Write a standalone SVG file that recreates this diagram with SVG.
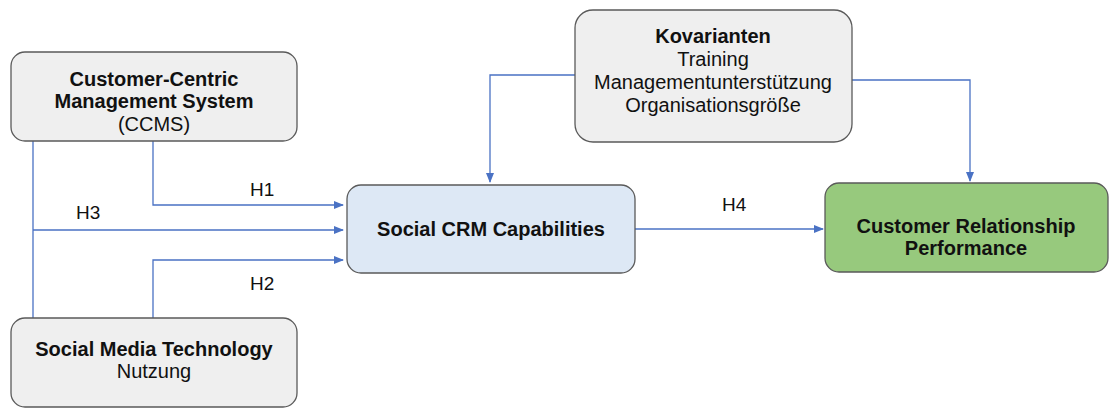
<svg xmlns="http://www.w3.org/2000/svg" width="1109" height="408" viewBox="0 0 1109 408">
<defs>
<marker id="ah" markerWidth="10" markerHeight="8" refX="9" refY="4" orient="auto" markerUnits="userSpaceOnUse">
<path d="M0,0 L10,4 L0,8 Z" fill="#4a72c4"/>
</marker>
<style>
.box{fill:#efefef;stroke:#5a5a5a;stroke-width:1.3}
.blue{fill:#dde8f5;stroke:#5a5a5a;stroke-width:1.3}
.green{fill:#97c97d;stroke:#5a5a5a;stroke-width:1.3}
.c{fill:none;stroke:#4a72c4;stroke-width:1.3}
text{font-family:"Liberation Sans",Arial,sans-serif;font-size:20px;fill:#111;text-anchor:middle}
.b{font-weight:bold}
.lbl{text-anchor:start;font-size:19px}
</style>
</defs>
<rect width="1109" height="408" fill="#fff"/>
<g id="connectors">
<path class="c" d="M153,141 V205 H343" marker-end="url(#ah)"/>
<path class="c" d="M33,141 V318 M33,230 H343" marker-end="url(#ah)"/>
<path class="c" d="M153,318 V260 H343" marker-end="url(#ah)"/>
<path class="c" d="M575,75 H490 V182" marker-end="url(#ah)"/>
<path class="c" d="M852,80 H970 V181" marker-end="url(#ah)"/>
<path class="c" d="M635,229 H823" marker-end="url(#ah)"/>
<text class="lbl" x="250" y="196">H1</text>
<text class="lbl" x="76" y="219">H3</text>
<text class="lbl" x="250" y="290">H2</text>
<text class="lbl" x="722" y="211">H4</text>
</g>
<g id="ccms">
<rect class="box" x="11" y="52" width="286" height="89" rx="14"/>
<text class="b" x="154" y="86">Customer-Centric</text>
<text class="b" x="154" y="108">Management System</text>
<text x="154" y="131">(CCMS)</text>
</g>
<g id="smt">
<rect class="box" x="11" y="318" width="286" height="89" rx="14"/>
<text class="b" x="154" y="356">Social Media Technology</text>
<text x="154" y="378">Nutzung</text>
</g>
<g id="kovarianten">
<rect class="box" x="575" y="10" width="277" height="132" rx="18"/>
<text class="b" x="713" y="43">Kovarianten</text>
<text x="713" y="66">Training</text>
<text x="713" y="89">Managementunterstützung</text>
<text x="713" y="112">Organisationsgröße</text>
</g>
<g id="scrm">
<rect class="blue" x="347" y="185" width="288" height="88" rx="14"/>
<text class="b" x="491" y="236">Social CRM Capabilities</text>
</g>
<g id="crp">
<rect class="green" x="825" y="183" width="283" height="89" rx="14"/>
<text class="b" x="966" y="233">Customer Relationship</text>
<text class="b" x="966" y="255">Performance</text>
</g>
</svg>
